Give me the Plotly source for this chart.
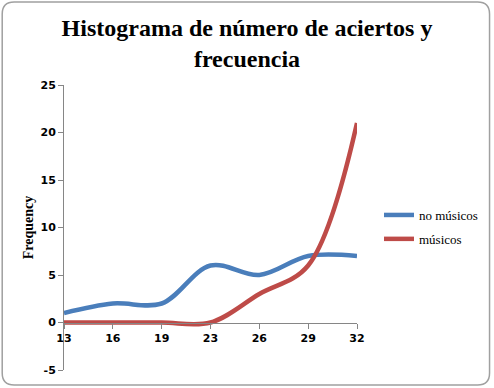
import plotly.graph_objects as go

categories = ["13", "16", "19", "23", "26", "29", "32"]
no_musicos = [1, 2, 2, 6, 5, 7, 7]
musicos = [0, 0, 0, 0, 3, 6, 21]
y_ticks = [-5, 0, 5, 10, 15, 20, 25]

W, H = 494, 388
L, R, T, B = 64, 136, 85, 18
pw, ph = W - L - R, H - T - B

xpos = list(range(len(categories)))

fig = go.Figure()
fig.add_trace(go.Scatter(x=xpos, y=no_musicos, mode="lines", name="no músicos", legendgroup="a",
                         line=dict(color="#4A7EBB", width=4.5, shape="spline", smoothing=1.0)))
fig.add_trace(go.Scatter(x=xpos, y=musicos, mode="lines", name="músicos", legendgroup="b",
                         line=dict(color="#BE4B48", width=4.5, shape="spline", smoothing=1.0)))

ymin, ymax = -5, 25
zero_frac = (0 - ymin) / (ymax - ymin)

tickfont = dict(family="DejaVu Sans", size=11, color="#000000")

fig.update_layout(
    width=W, height=H,
    margin=dict(l=L, r=R, t=T, b=B),
    paper_bgcolor="white", plot_bgcolor="white",
    title=dict(text="<b>Histograma de número de aciertos y<br>frecuencia</b>",
               font=dict(family="Liberation Serif", size=24, color="#000000"),
               x=0.5, xanchor="center", y=1 - 36 / H, yanchor="top"),
    xaxis=dict(range=[0, 6], tickvals=xpos, ticktext=["<b>%s</b>" % c for c in categories],
               showgrid=False, zeroline=False, showline=True, linecolor="#868686", linewidth=1,
               ticks="outside", ticklen=5, tickcolor="#868686", tickfont=tickfont,
               anchor="free", position=zero_frac, fixedrange=True),
    yaxis=dict(range=[ymin, ymax], tickvals=y_ticks, ticktext=["<b>%d</b>" % v for v in y_ticks],
               showgrid=False, zeroline=False, showline=True, linecolor="#868686", linewidth=1,
               ticks="outside", ticklen=5, tickcolor="#868686", tickfont=tickfont,
               title=dict(text="<b>Frequency</b>", font=dict(family="Liberation Serif", size=14, color="#000000"),
                          standoff=3)),
    legend=dict(x=(379 - L) / pw, y=(370 - 200) / ph, xanchor="left", yanchor="top",
                font=dict(family="Liberation Serif", size=13, color="#000000"),
                bgcolor="rgba(0,0,0,0)", itemwidth=30, tracegroupgap=4),
    showlegend=True,
)

# rounded outer border
def px_to_paper_x(px):
    return (px - L) / pw

def px_to_paper_y(py):
    return (H - B - py) / ph

x0, x1, y0, y1, r = 2, 491, 2, 385, 12
rx, ry = r / pw, r / ph
X0, X1 = px_to_paper_x(x0), px_to_paper_x(x1)
Y0, Y1 = px_to_paper_y(y1), px_to_paper_y(y0)
path = (f"M {X0+rx},{Y1} L {X1-rx},{Y1} Q {X1},{Y1} {X1},{Y1-ry} "
        f"L {X1},{Y0+ry} Q {X1},{Y0} {X1-rx},{Y0} L {X0+rx},{Y0} "
        f"Q {X0},{Y0} {X0},{Y0+ry} L {X0},{Y1-ry} Q {X0},{Y1} {X0+rx},{Y1} Z")
fig.add_shape(type="path", path=path, xref="paper", yref="paper",
              line=dict(color="#A0A0A0", width=1.5), layer="below")

fig.write_html("out.html", config={"displayModeBar": False},
               post_script="document.body.style.margin='0';document.body.style.overflow='hidden';")
